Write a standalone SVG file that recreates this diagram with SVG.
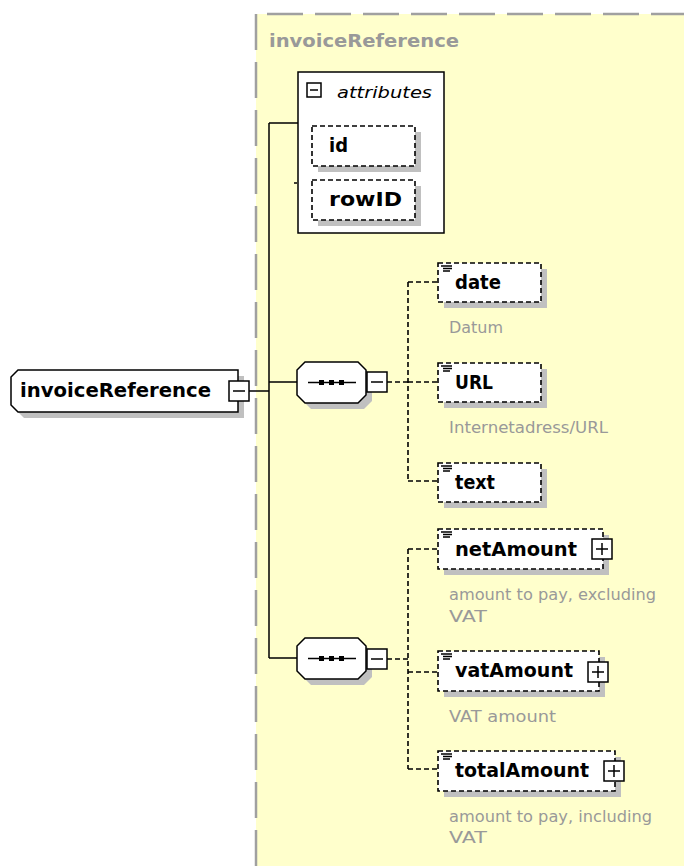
<svg xmlns="http://www.w3.org/2000/svg" width="684" height="866" viewBox="0 0 684 866">
<style>
.bg{fill:#ffffcc}
.border{fill:none;stroke:#a0a0a0;stroke-width:2.5;stroke-dasharray:36 12}
.sh{fill:#c0c0c0}
.box{fill:#fff;stroke:#000;stroke-width:1.5}
.dbox{fill:#fff;stroke:#000;stroke-width:1.6;stroke-dasharray:5 3}
.ln{fill:none;stroke:#000;stroke-width:1.5}
.dln{fill:none;stroke:#000;stroke-width:1.6;stroke-dasharray:5 3}
.lbl{font-family:"DejaVu Sans",Verdana,sans-serif;font-weight:bold;font-size:19px;fill:#000}
.desc{font-family:"DejaVu Sans",Verdana,sans-serif;font-size:16px;fill:#999}
.title{font-family:"DejaVu Sans",Verdana,sans-serif;font-weight:bold;font-size:18px;fill:#999}
.ital{font-family:"DejaVu Sans",Verdana,sans-serif;font-style:italic;font-size:16px;fill:#000}
</style>
<defs>
<g id="icon"><path d="M3 3h11M5 5.5h9M5 8h7" stroke="#000" stroke-width="1.3" fill="none"/></g>
<g id="plus"><rect x="0" y="0" width="20" height="20" class="box"/><path d="M4 10h12M10 4v12" stroke="#000" stroke-width="1.5"/></g>
<g id="minus"><rect x="0" y="0" width="20" height="20" class="box"/><path d="M4 10h12" stroke="#000" stroke-width="1.5"/></g>
<g id="seq">
<path d="M14 6h53l8 8v25l-8 8h-53l-8-8v-25z" class="sh"/>
<path d="M8 0h53l8 8v25l-8 8h-53l-8-8v-25z" class="box"/>
<path d="M11 20.5h48" stroke="#000" stroke-width="1.5"/>
<rect x="22" y="18" width="5" height="5"/><rect x="32" y="18" width="5" height="5"/><rect x="42" y="18" width="5" height="5"/>
</g>
</defs>
<rect class="bg" x="256" y="14" width="428" height="852"/>
<path class="border" d="M256 14V866" style="stroke-dashoffset:0"/>
<path class="border" d="M256 14H684" style="stroke-dashoffset:37"/>
<text class="title" x="269" y="47" textLength="190" lengthAdjust="spacingAndGlyphs">invoiceReference</text>

<g id="connectors">
<path class="ln" d="M248 391H269M269 123V658M269 123H298M269 382H297M269 658H297M294 183H297"/>
<path class="dln" d="M387 382H408M408 282V481M408 282H438M408 382H438M408 481H438"/>
<path class="dln" d="M387 659H408M408 549V769M408 549H438M408 672H438M408 769H438"/>
</g>

<g id="root">
<path class="sh" d="M24 376H244V418H24L17 411V383Z"/>
<path class="box" d="M18 370H238V412H18L11 405V377Z"/>
<text class="lbl" x="20" y="397" textLength="191" lengthAdjust="spacingAndGlyphs">invoiceReference</text>
<use href="#minus" x="229" y="381"/>
</g>

<g id="attributes">
<rect class="box" x="298" y="72" width="146" height="161"/>
<rect class="box" x="307" y="83" width="14" height="14"/>
<path d="M310 90h8" stroke="#000" stroke-width="1.5"/>
<text class="ital" x="337" y="98" textLength="95" lengthAdjust="spacingAndGlyphs">attributes</text>
</g>
<g id="attr-id">
<rect class="sh" x="318" y="132" width="103" height="40"/>
<rect class="dbox" x="312" y="126" width="103" height="40"/>
<text class="lbl" x="329" y="152" textLength="19" lengthAdjust="spacingAndGlyphs">id</text>
</g>
<g id="attr-rowID">
<rect class="sh" x="318" y="186" width="103" height="40"/>
<rect class="dbox" x="312" y="180" width="103" height="40"/>
<text class="lbl" x="329" y="206" textLength="73" lengthAdjust="spacingAndGlyphs">rowID</text>
</g>

<g id="seq1">
<use href="#seq" x="297" y="362"/>
<use href="#minus" x="367" y="372"/>
</g>
<g id="seq2">
<use href="#seq" x="297" y="638"/>
<use href="#minus" x="367" y="649"/>
</g>

<g id="date">
<rect class="sh" x="444" y="269" width="103" height="39"/>
<rect class="dbox" x="438" y="263" width="103" height="39"/>
<use href="#icon" x="438" y="263"/>
<text class="lbl" x="455" y="289" textLength="46" lengthAdjust="spacingAndGlyphs">date</text>
<text class="desc" x="449" y="333" textLength="54" lengthAdjust="spacingAndGlyphs">Datum</text>
</g>
<g id="URL">
<rect class="sh" x="444" y="369" width="103" height="39"/>
<rect class="dbox" x="438" y="363" width="103" height="39"/>
<use href="#icon" x="438" y="363"/>
<text class="lbl" x="455" y="389" textLength="38" lengthAdjust="spacingAndGlyphs">URL</text>
<text class="desc" x="449" y="433" textLength="159" lengthAdjust="spacingAndGlyphs">Internetadress/URL</text>
</g>
<g id="text">
<rect class="sh" x="444" y="469" width="103" height="39"/>
<rect class="dbox" x="438" y="463" width="103" height="39"/>
<use href="#icon" x="438" y="463"/>
<text class="lbl" x="455" y="489" textLength="40" lengthAdjust="spacingAndGlyphs">text</text>
</g>
<g id="netAmount">
<rect class="sh" x="444" y="535" width="165" height="40"/>
<rect class="dbox" x="438" y="529" width="165" height="40"/>
<use href="#icon" x="438" y="529"/>
<text class="lbl" x="455" y="556" textLength="122" lengthAdjust="spacingAndGlyphs">netAmount</text>
<use href="#plus" x="592" y="539"/>
<text class="desc" x="449" y="600" textLength="207" lengthAdjust="spacingAndGlyphs">amount to pay, excluding</text>
<text class="desc" x="449" y="622" textLength="38" lengthAdjust="spacingAndGlyphs">VAT</text>
</g>
<g id="vatAmount">
<rect class="sh" x="444" y="657" width="161" height="40"/>
<rect class="dbox" x="438" y="651" width="161" height="40"/>
<use href="#icon" x="438" y="651"/>
<text class="lbl" x="455" y="677" textLength="118" lengthAdjust="spacingAndGlyphs">vatAmount</text>
<use href="#plus" x="588" y="662"/>
<text class="desc" x="449" y="722" textLength="107" lengthAdjust="spacingAndGlyphs">VAT amount</text>
</g>
<g id="totalAmount">
<rect class="sh" x="444" y="757" width="177" height="40"/>
<rect class="dbox" x="438" y="751" width="177" height="40"/>
<use href="#icon" x="438" y="751"/>
<text class="lbl" x="455" y="777" textLength="134" lengthAdjust="spacingAndGlyphs">totalAmount</text>
<use href="#plus" x="604" y="761"/>
<text class="desc" x="449" y="822" textLength="203" lengthAdjust="spacingAndGlyphs">amount to pay, including</text>
<text class="desc" x="449" y="843" textLength="38" lengthAdjust="spacingAndGlyphs">VAT</text>
</g>
</svg>
